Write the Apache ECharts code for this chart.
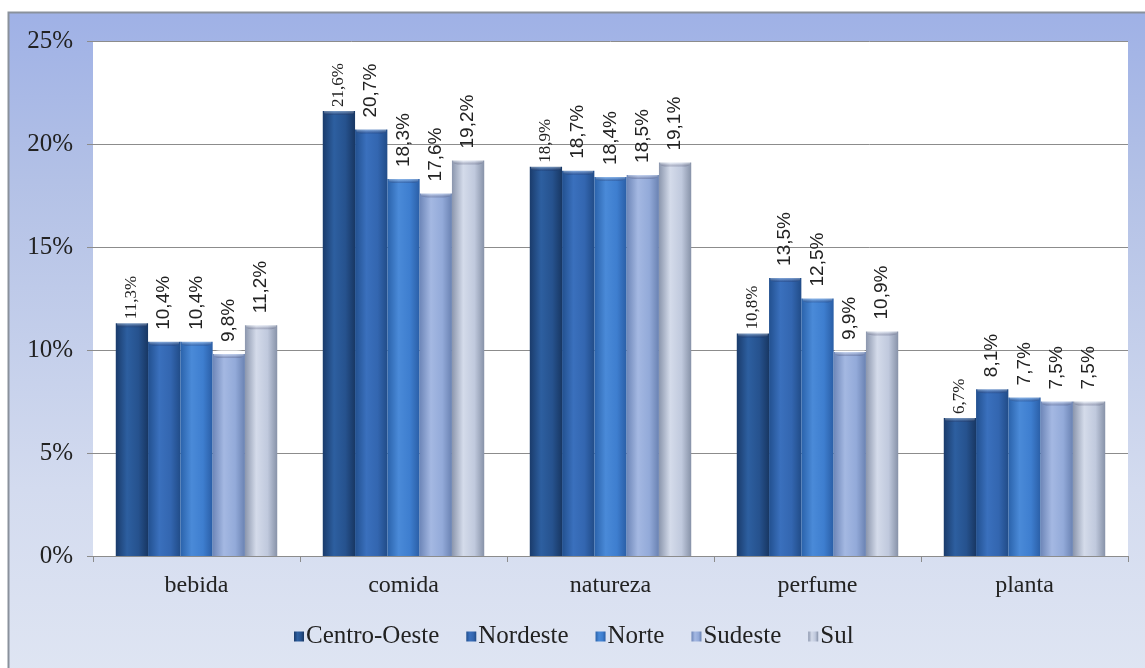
<!DOCTYPE html>
<html><head><meta charset="utf-8">
<script src="https://cdn.jsdelivr.net/npm/echarts@6/dist/echarts.min.js"></script>
<style>html,body{margin:0;padding:0;background:#fff;}#c{width:1145px;height:668px;}</style>
</head><body><div id="c"></div>
<script>
const categories = ['bebida','comida','natureza','perfume','planta'];
const seriesNames = ['Centro-Oeste','Nordeste','Norte','Sudeste','Sul'];
const centroOeste = [11.3, 21.6, 18.9, 10.8, 6.7];
const nordeste    = [10.4, 20.7, 18.7, 13.5, 8.1];
const norte       = [10.4, 18.3, 18.4, 12.5, 7.7];
const sudeste     = [9.8, 17.6, 18.5, 9.9, 7.5];
const sul         = [11.2, 19.2, 19.1, 10.9, 7.5];
const yTicks = [0,5,10,15,20,25];

const SERIF = "'Liberation Serif', 'Times New Roman', 'DejaVu Serif', serif";
const SANS = "'Liberation Sans', Arial, 'DejaVu Sans', sans-serif";

const palettes = [
  ['#1a3b6b','#2d5fa0','#26528e','#183763'],
  ['#22508f','#3a70bd','#3366b0','#214c88'],
  ['#2a62aa','#4a8ad8','#3e7ecf','#2a5ea6'],
  ['#6d86b8','#a4b8e2','#93aad9','#6a82b2'],
  ['#8b96ad','#d4dbea','#c0c9dd','#8792a8']
];
function grad(p){
  return new echarts.graphic.LinearGradient(0,0,1,0,[
    {offset:0,color:p[0]},{offset:0.35,color:p[1]},{offset:0.7,color:p[2]},{offset:1,color:p[3]}
  ]);
}
const allData = [centroOeste, nordeste, norte, sudeste, sul];
const fmt = v => String(v.value.toFixed(1)).replace('.',',') + '%';

const series = allData.map((d,i)=>({
  name: seriesNames[i],
  type: 'bar',
  data: d,
  barGap: '0%',
  barCategoryGap: '22%',
  itemStyle: {color: grad(palettes[i])},
  label: {
    show: true, position: 'top', rotate: 90, align: 'left', verticalAlign: 'middle',
    distance: i===0 ? 4 : 12, formatter: fmt,
    fontFamily: i===0 ? SERIF : SANS, fontSize: i===0 ? 17 : 19, color: '#222'
  }
}));
const caps = allData.map((d,i)=>({
  name: 'cap' + i,
  type: 'pictorialBar',
  data: d,
  barGap: '0%',
  barCategoryGap: '22%',
  symbol: 'roundRect',
  symbolSize: ['92%', 8],
  symbolPosition: 'end',
  symbolOffset: [0, '-50%'],
  symbolClip: false,
  z: 3,
  silent: true,
  itemStyle: {
    color: new echarts.graphic.LinearGradient(0,0,0,1,[
      {offset:0,color:'rgba(255,255,255,0.6)'},{offset:0.6,color:'rgba(255,255,255,0.3)'},{offset:1,color:'rgba(0,0,40,0.2)'}
    ])
  }
}));

const chart = echarts.init(document.getElementById('c'), null, {renderer:'canvas'});
chart.setOption({
  animation: false,
  graphic: [{
    type: 'rect', z: -10, silent: true,
    shape: {x: 8.5, y: 12.5, width: 1160, height: 680},
    style: {
      fill: new echarts.graphic.LinearGradient(0,0,0,1,[
        {offset:0,color:'#9fb1e6'},{offset:0.25,color:'#b3c1e6'},{offset:0.7,color:'#d3dbef'},{offset:1,color:'#e0e6f3'}
      ]),
      stroke: '#8a919c', lineWidth: 2
    }
  }],
  grid: {left: 93, right: 17, top: 41, bottom: 112, show: true, backgroundColor: '#ffffff', borderWidth: 0},
  legend: {
    data: seriesNames, left: 289, top: 619, itemWidth: 10, itemHeight: 10, itemGap: 27,
    icon: 'rect',
    textStyle: {fontFamily: SERIF, fontSize: 25, color: '#222', padding: [0,0,0,-3]}
  },
  xAxis: {
    type: 'category', data: categories,
    axisLine: {lineStyle: {color: '#8c8c8c'}},
    axisTick: {show: true, length: 6, lineStyle: {color: '#8c8c8c'}},
    axisLabel: {fontFamily: SERIF, fontSize: 24, color: '#222', margin: 18}
  },
  yAxis: {
    type: 'value', min: 0, max: 25, interval: 5,
    axisLine: {show: false},
    axisTick: {show: true, length: 6, lineStyle: {color: '#8c8c8c'}},
    splitLine: {lineStyle: {color: '#8c8c8c'}},
    axisLabel: {fontFamily: SERIF, fontSize: 25, color: '#222', margin: 20,
      formatter: v => yTicks.includes(v) ? v + '%' : ''}
  },
  series: series.concat(caps)
});
</script></body></html>
